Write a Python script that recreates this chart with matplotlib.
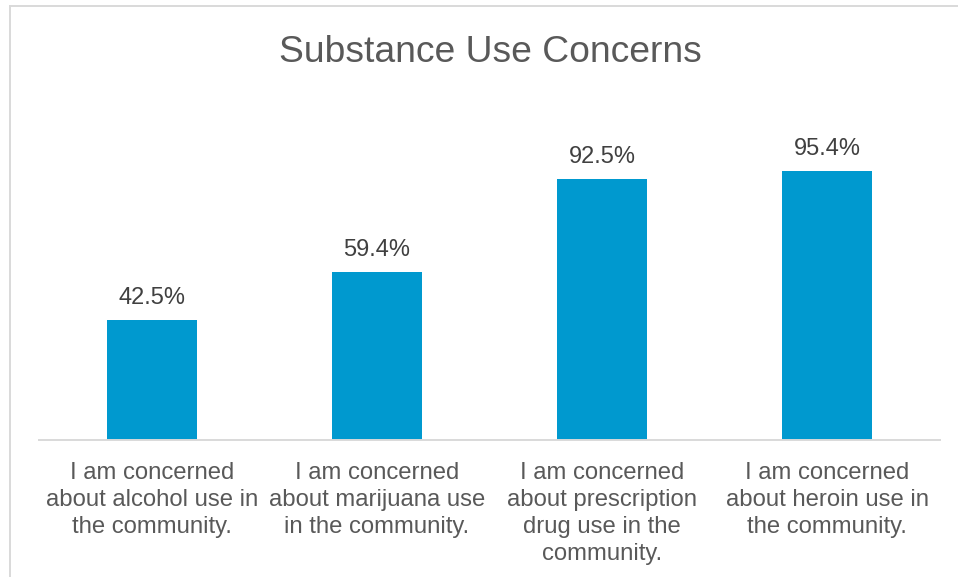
import matplotlib
matplotlib.use("Agg")
import matplotlib.pyplot as plt
from matplotlib.lines import Line2D

plt.rcParams['font.family'] = ['Liberation Sans', 'DejaVu Sans']

title = "Substance Use Concerns"
categories = [
    "I am concerned\nabout alcohol use in\nthe community.",
    "I am concerned\nabout marijuana use\nin the community.",
    "I am concerned\nabout prescription\ndrug use in the\ncommunity.",
    "I am concerned\nabout heroin use in\nthe community.",
]
values = [42.5, 59.4, 92.5, 95.4]
value_labels = ["42.5%", "59.4%", "92.5%", "95.4%"]

W, H = 958, 577
fig = plt.figure(figsize=(W / 100, H / 100), dpi=100)
fig.patch.set_facecolor("white")

# plot area in pixel terms
left, right, base, top = 39, 940, 439.5, 158
ax = fig.add_axes([left / W, (H - base) / H, (right - left) / W, (base - top) / H])

x = list(range(len(categories)))
ax.bar(x, values, width=0.4, color="#0099CF", zorder=2)
ax.set_xlim(-0.5, len(categories) - 0.5)
ax.set_ylim(0, 100)

for xi, v, lab in zip(x, values, value_labels):
    ax.annotate(lab, (xi, v), xytext=(0, 8), textcoords="offset points",
                ha="center", va="bottom", fontsize=17, color="#404040")

ax.set_xticks(x)
ax.set_xticklabels(categories, fontsize=17.2, color="#595959", linespacing=1.3)
ax.tick_params(axis="x", length=0, pad=16)
ax.set_yticks([])
for s in ["top", "left", "right"]:
    ax.spines[s].set_visible(False)
ax.spines["bottom"].set_color("#d9d9d9")
ax.spines["bottom"].set_linewidth(1.4)
ax.set_facecolor("none")

fig.text(490 / W, (H - 62) / H, title, ha="center", va="baseline",
         fontsize=26.8, color="#595959")

# chart frame (top and left edges)
fig.add_artist(Line2D([9.5 / W, 9.5 / W], [0, (H - 5.5) / H],
                      transform=fig.transFigure, color="#d9d9d9", lw=1.4))
fig.add_artist(Line2D([9.5 / W, 1], [(H - 5.5) / H, (H - 5.5) / H],
                      transform=fig.transFigure, color="#d9d9d9", lw=1.4))

fig.savefig("out.png", dpi=100, facecolor="white")
